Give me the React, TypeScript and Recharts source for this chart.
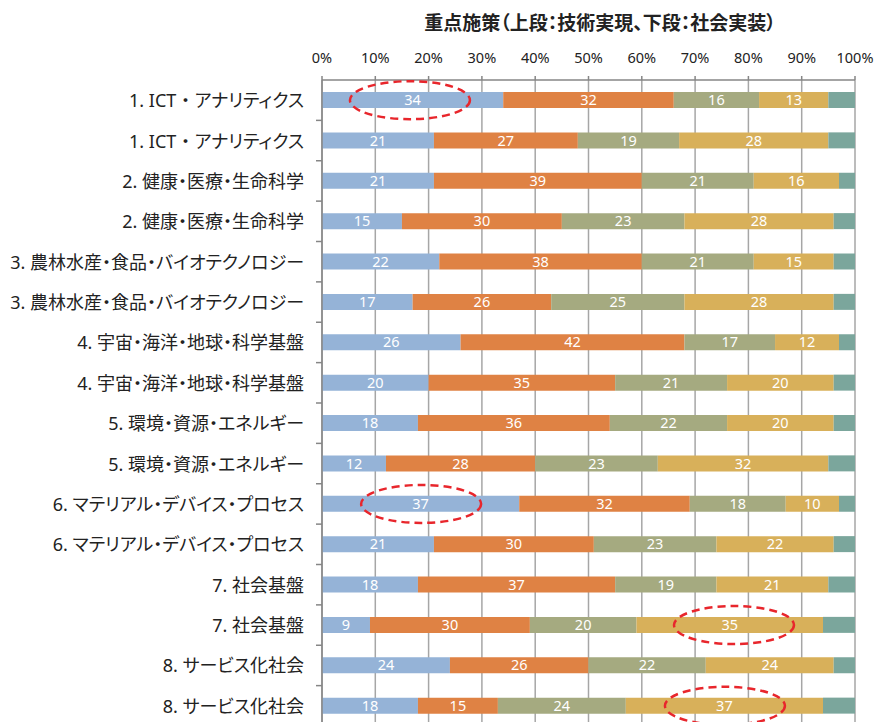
import React from 'react';
import { BarChart, Bar, XAxis, YAxis, CartesianGrid, LabelList, ReferenceDot } from 'recharts';

const categories = [
  '1. ICT ・ アナリティクス',
  '1. ICT ・ アナリティクス',
  '2. 健康・医療・生命科学',
  '2. 健康・医療・生命科学',
  '3. 農林水産・食品・バイオテクノロジー',
  '3. 農林水産・食品・バイオテクノロジー',
  '4. 宇宙・海洋・地球・科学基盤',
  '4. 宇宙・海洋・地球・科学基盤',
  '5. 環境・資源・エネルギー',
  '5. 環境・資源・エネルギー',
  '6. マテリアル・デバイス・プロセス',
  '6. マテリアル・デバイス・プロセス',
  '7. 社会基盤',
  '7. 社会基盤',
  '8. サービス化社会',
  '8. サービス化社会',
];
const rowKeys = ['r1', 'r2', 'r3', 'r4', 'r5', 'r6', 'r7', 'r8', 'r9', 'r10', 'r11', 'r12', 'r13', 'r14', 'r15', 'r16'];
const blue = [34, 21, 21, 15, 22, 17, 26, 20, 18, 12, 37, 21, 18, 9, 24, 18];
const orange = [32, 27, 39, 30, 38, 26, 42, 35, 36, 28, 32, 30, 37, 30, 26, 15];
const green = [16, 19, 21, 23, 21, 25, 17, 21, 22, 23, 18, 23, 19, 20, 22, 24];
const gold = [13, 28, 16, 28, 15, 28, 12, 20, 20, 32, 10, 22, 21, 35, 24, 37];
const teal = [5, 5, 3, 4, 4, 4, 3, 4, 4, 5, 3, 4, 5, 6, 4, 6];
const xTicks = [0, 0.1, 0.2, 0.3, 0.4, 0.5, 0.6, 0.7, 0.8, 0.9, 1];
const highlights = [
  { key: 'r1', x: 0.165 },
  { key: 'r11', x: 0.186 },
  { key: 'r14', x: 0.773 },
  { key: 'r16', x: 0.756 },
];
const title = '重点施策（上段：技術実現、下段：社会実装）';

const data = rowKeys.map((k, i) => ({
  key: k,
  name: categories[i],
  blue: blue[i],
  orange: orange[i],
  green: green[i],
  gold: gold[i],
  teal: teal[i],
}));

const FONT = "'Noto Sans', 'Noto Sans CJK JP', sans-serif";
const PLOT_TOP = 80;
const PLOT_H = 646;
const BAND = PLOT_H / rowKeys.length;

const YTick = (props: any) => {
  const { x, y, index } = props;
  const label = categories[index] ?? '';
  return (
    <g>
      <line x1={322 - 6} x2={322} y1={y + BAND / 2} y2={y + BAND / 2} stroke="#868686" strokeWidth={1.5} />
      <text
        x={x}
        y={y}
        dy={7}
        textAnchor="end"
        fontSize={18}
        fill="#222"
        fontFamily={FONT}
        style={{ whiteSpace: 'pre', fontFeatureSettings: '"palt"' }}
      >
        {label}
      </text>
    </g>
  );
};

const EllipseShape = (props: any) => {
  const { cx, cy } = props;
  return (
    <ellipse cx={cx} cy={cy} rx={60} ry={19} fill="none" stroke="#E8262C" strokeWidth={2.5} strokeDasharray="8 5" />
  );
};

export default function App() {
  return (
    <div style={{ position: 'absolute', left: 0, top: 0, width: 875, height: 722, overflow: 'hidden', background: '#fff' }}>
      <div
        style={{
          position: 'absolute',
          left: 300,
          top: 11,
          width: 600,
          textAlign: 'center',
          fontFamily: FONT,
          fontWeight: 'bold',
          fontSize: 19,
          color: '#222',
          lineHeight: '24px',
          fontFeatureSettings: '"palt"',
        }}
      >
        {title}
      </div>
      <BarChart
        layout="vertical"
        width={875}
        height={PLOT_TOP + PLOT_H + 4}
        data={data}
        stackOffset="expand"
        barSize={16}
        margin={{ top: 40, right: 20, bottom: 4, left: 0 }}
      >
        <CartesianGrid horizontal={false} stroke="#A6A6A6" strokeWidth={1.5} />
        <XAxis
          type="number"
          orientation="top"
          domain={[0, 1]}
          ticks={xTicks}
          height={40}
          tickFormatter={(v: number) => `${Math.round(v * 100)}%`}
          axisLine={{ stroke: '#868686', strokeWidth: 1.5 }}
          tickLine={{ stroke: '#868686', strokeWidth: 1.5 }}
          tickSize={4}
          tickMargin={13}
          tick={{ fontSize: 14.5, fill: '#222', fontFamily: FONT }}
          interval={0}
        />
        <YAxis
          type="category"
          dataKey="key"
          width={322}
          axisLine={{ stroke: '#868686', strokeWidth: 1.5 }}
          tickLine={false}
          tickSize={6}
          tickMargin={12}
          tick={<YTick />}
          interval={0}
        />
        <Bar dataKey="blue" stackId="a" fill="#95B3D7" isAnimationActive={false}>
          <LabelList dataKey="blue" position="center" fill="#fff" fontSize={14.5} fontFamily={FONT} />
        </Bar>
        <Bar dataKey="orange" stackId="a" fill="#DF8244" isAnimationActive={false}>
          <LabelList dataKey="orange" position="center" fill="#fff" fontSize={14.5} fontFamily={FONT} />
        </Bar>
        <Bar dataKey="green" stackId="a" fill="#A5AA80" isAnimationActive={false}>
          <LabelList dataKey="green" position="center" fill="#fff" fontSize={14.5} fontFamily={FONT} />
        </Bar>
        <Bar dataKey="gold" stackId="a" fill="#D8B05A" isAnimationActive={false}>
          <LabelList dataKey="gold" position="center" fill="#fff" fontSize={14.5} fontFamily={FONT} />
        </Bar>
        <Bar dataKey="teal" stackId="a" fill="#7BA69C" isAnimationActive={false} />
        {highlights.map((h) => (
          <ReferenceDot key={h.key} x={h.x} y={h.key} r={1} shape={<EllipseShape />} ifOverflow="visible" />
        ))}
      </BarChart>
    </div>
  );
}
